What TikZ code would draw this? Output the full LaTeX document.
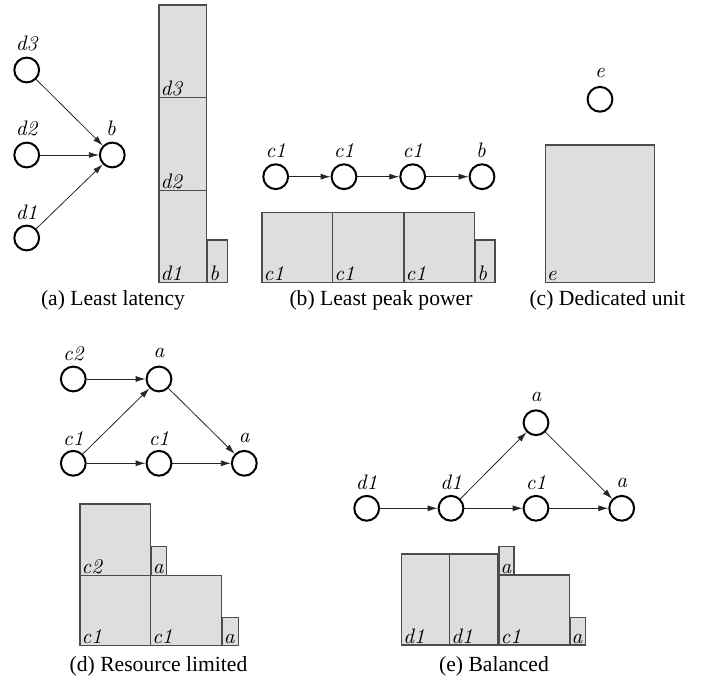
\documentclass[tikz,border=0pt]{standalone}
\usepackage{fontspec}
\newfontfamily\capfont{Liberation Serif}
\usetikzlibrary{arrows.meta}
\newcommand\gbox[6]{%
  \draw[bx] (#1,#2) rectangle (#3,#4);
  \node[bl] (#6) at (#1,#4) {#5};}
\begin{document}
\begin{tikzpicture}[x=0.5pt,y=-0.5pt,
  vtx/.style={circle,draw,line width=1pt,minimum size=12.4pt,inner sep=0pt},
  lab/.style={font=\fontsize{10.5}{12}\selectfont\itshape,inner sep=0pt},
  edg/.style={draw=black!85,line width=0.4pt,-{Latex[length=5pt,width=3pt]}},
  bx/.style={fill=black!13,draw=black!70,line width=0.6pt},
  bl/.style={font=\fontsize{10.5}{12}\selectfont\itshape,inner sep=0.6pt,anchor=south west},
  captxt/.style={font=\capfont\fontsize{10.8}{13}\selectfont}]
\useasboundingbox (0,0) rectangle (702,683);
% ---------- (a)
\node[vtx] (ad3) at (26.7,70) {};
\node[vtx] (ad2) at (26.7,155) {};
\node[vtx] (ad1) at (26.7,238) {};
\node[vtx] (ab) at (112.3,155) {};
\node[lab] (ad3l) at (26.7,43) {d3};
\node[lab] (ad2l) at (26.7,128) {d2};
\node[lab] (ad1l) at (26.7,212) {d1};
\node[lab] (abl) at (111,128) {b};
\draw[edg] (ad3) -- (ab);
\draw[edg] (ad2) -- (ab);
\draw[edg] (ad1) -- (ab);
\gbox{159}{5}{206.7}{97.7}{d3}{abx3}
\gbox{159}{97.7}{206.7}{190.7}{d2}{abx2}
\gbox{159}{190.7}{206.7}{282.7}{d1}{abx1}
\gbox{207.7}{240}{227.7}{282.7}{b}{abxb}
\node[captxt] (capa) at (113,300) {(a) Least latency};
% ---------- (b)
\node[vtx] (bc1) at (275.7,176.7) {};
\node[vtx] (bc2) at (344,176.7) {};
\node[vtx] (bc3) at (412.7,176.7) {};
\node[vtx] (bb) at (482,176.7) {};
\node[lab] (bc1l) at (275.7,150.7) {c1};
\node[lab] (bc2l) at (344,150.7) {c1};
\node[lab] (bc3l) at (412.7,150.7) {c1};
\node[lab] (bbl) at (481,150.7) {b};
\draw[edg] (bc1) -- (bc2);
\draw[edg] (bc2) -- (bc3);
\draw[edg] (bc3) -- (bb);
\gbox{262}{212.3}{332.7}{282.7}{c1}{bbx1}
\gbox{332.7}{212.3}{404}{282.7}{c1}{bbx2}
\gbox{404}{212.3}{474.7}{282.7}{c1}{bbx3}
\gbox{475.7}{240}{495}{282.7}{b}{bbxb}
\node[captxt] (capb) at (381,300) {(b) Least peak power};
% ---------- (c)
\node[vtx] (ce) at (600,99.3) {};
\node[lab] (cel) at (600,73) {e};
\gbox{545.3}{145}{654.3}{282.7}{e}{cbx}
\node[captxt] (capc) at (607.5,300) {(c) Dedicated unit};
% ---------- (d)
\node[vtx] (dc2) at (73.3,379) {};
\node[vtx] (da1) at (159,379) {};
\node[vtx] (dc1) at (73.3,463.3) {};
\node[vtx] (dc1b) at (159,463.3) {};
\node[vtx] (da2) at (244.3,463.3) {};
\node[lab] (dc2l) at (73.3,353.3) {c2};
\node[lab] (da1l) at (159,353.3) {a};
\node[lab] (dc1l) at (73.3,438.3) {c1};
\node[lab] (dc1bl) at (159,438.3) {c1};
\node[lab] (da2l) at (244.3,438.3) {a};
\draw[edg] (dc2) -- (da1);
\draw[edg] (dc1) -- (da1);
\draw[edg] (da1) -- (da2);
\draw[edg] (dc1) -- (dc1b);
\draw[edg] (dc1b) -- (da2);
\gbox{80}{504}{150.7}{575.3}{c2}{dbx1}
\gbox{151.3}{546.7}{166.7}{575.3}{a}{dbx2}
\gbox{80}{575.3}{150.7}{645.3}{c1}{dbx3}
\gbox{150.7}{575.3}{221.7}{645.3}{c1}{dbx4}
\gbox{222.3}{617.7}{238.3}{645.3}{a}{dbx5}
\node[captxt] (capd) at (158.5,666.7) {(d) Resource limited};
% ---------- (e)
\node[vtx] (ed1) at (366.7,508.3) {};
\node[vtx] (ed2) at (451,508.3) {};
\node[vtx] (ec1) at (536,508.3) {};
\node[vtx] (ea2) at (621.7,508.3) {};
\node[vtx] (ea1) at (536,422.7) {};
\node[lab] (ed1l) at (366.7,482.7) {d1};
\node[lab] (ed2l) at (451,482.7) {d1};
\node[lab] (ec1l) at (536,482.7) {c1};
\node[lab] (ea2l) at (621.7,482.7) {a};
\node[lab] (ea1l) at (536,397.3) {a};
\draw[edg] (ed1) -- (ed2);
\draw[edg] (ed2) -- (ea1);
\draw[edg] (ed2) -- (ec1);
\draw[edg] (ec1) -- (ea2);
\draw[edg] (ea1) -- (ea2);
\gbox{401.7}{554}{449.7}{645}{d1}{ebx1}
\gbox{449.7}{554}{498}{645}{d1}{ebx2}
\gbox{499}{546.7}{514}{575}{a}{ebx3}
\gbox{499}{575}{569.3}{645}{c1}{ebx4}
\gbox{570}{617.7}{585.7}{645}{a}{ebx5}
\node[captxt] (cape) at (494,666.7) {(e) Balanced};
\end{tikzpicture}
\end{document}
